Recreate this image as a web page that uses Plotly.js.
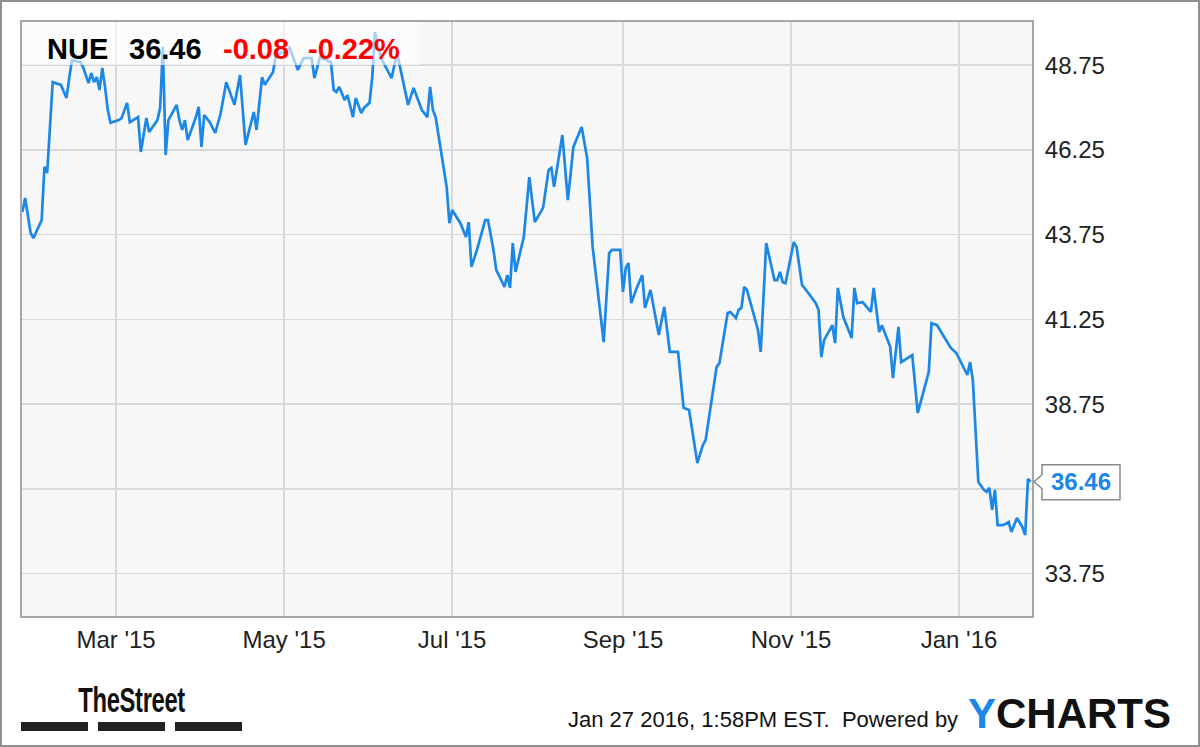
<!DOCTYPE html>
<html>
<head>
<meta charset="utf-8">
<script src="https://cdn.plot.ly/plotly-3.0.1.min.js"></script>
<style>
  html, body { margin: 0; padding: 0; background: #fff; }
  #chart { width: 1200px; height: 747px; }
</style>
</head>
<body>
<div id="chart"></div>
<script>
const ticker = 'NUE';
const dates = [
 '2015-01-26','2015-01-27','2015-01-29','2015-01-30','2015-02-02','2015-02-03','2015-02-04','2015-02-05','2015-02-06','2015-02-09',
 '2015-02-11','2015-02-12','2015-02-13','2015-02-16','2015-02-17','2015-02-19','2015-02-20','2015-02-21','2015-02-22','2015-02-23',
 '2015-02-24','2015-02-25','2015-02-26','2015-02-27','2015-03-02','2015-03-03','2015-03-05','2015-03-06','2015-03-09','2015-03-10',
 '2015-03-12','2015-03-13','2015-03-16','2015-03-17','2015-03-18','2015-03-19','2015-03-20','2015-03-23','2015-03-24','2015-03-25',
 '2015-03-26','2015-03-27','2015-03-30','2015-03-31','2015-04-01','2015-04-02','2015-04-04','2015-04-06','2015-04-08','2015-04-10',
 '2015-04-13','2015-04-15','2015-04-17','2015-04-20','2015-04-21','2015-04-23','2015-04-24','2015-04-27','2015-04-28','2015-05-01',
 '2015-05-03','2015-05-06','2015-05-08','2015-05-11','2015-05-12','2015-05-14','2015-05-18','2015-05-19','2015-05-20','2015-05-21',
 '2015-05-23','2015-05-24','2015-05-26','2015-05-27','2015-05-29','2015-05-30','2015-06-01','2015-06-02','2015-06-03','2015-06-05',
 '2015-06-07','2015-06-09','2015-06-11','2015-06-13','2015-06-15','2015-06-17','2015-06-19','2015-06-20','2015-06-22','2015-06-23',
 '2015-06-24','2015-06-25','2015-06-27','2015-06-29','2015-06-30','2015-07-01','2015-07-04','2015-07-06','2015-07-07','2015-07-08',
 '2015-07-10','2015-07-13','2015-07-14','2015-07-16','2015-07-17','2015-07-20','2015-07-21','2015-07-22','2015-07-23','2015-07-24',
 '2015-07-27','2015-07-29','2015-07-31','2015-08-03','2015-08-05','2015-08-06','2015-08-07','2015-08-10','2015-08-12','2015-08-14',
 '2015-08-17','2015-08-19','2015-08-21','2015-08-25','2015-08-27','2015-08-28','2015-08-31','2015-09-01','2015-09-02','2015-09-03',
 '2015-09-04','2015-09-06','2015-09-08','2015-09-09','2015-09-11','2015-09-14','2015-09-16','2015-09-18','2015-09-21','2015-09-23',
 '2015-09-25','2015-09-28','2015-09-30','2015-10-01','2015-10-05','2015-10-06','2015-10-09','2015-10-10','2015-10-12','2015-10-13',
 '2015-10-14','2015-10-15','2015-10-16','2015-10-19','2015-10-20','2015-10-21','2015-10-23','2015-10-26','2015-10-27','2015-10-28',
 '2015-10-29','2015-10-30','2015-11-02','2015-11-03','2015-11-05','2015-11-07','2015-11-10','2015-11-11','2015-11-12','2015-11-13',
 '2015-11-16','2015-11-17','2015-11-18','2015-11-20','2015-11-23','2015-11-24','2015-11-25','2015-11-27','2015-11-30','2015-12-01',
 '2015-12-03','2015-12-04','2015-12-07','2015-12-08','2015-12-10','2015-12-11','2015-12-15','2015-12-17','2015-12-21','2015-12-22',
 '2015-12-24','2015-12-29','2015-12-31','2016-01-04','2016-01-05','2016-01-06','2016-01-08','2016-01-10','2016-01-11','2016-01-12',
 '2016-01-13','2016-01-14','2016-01-15','2016-01-17','2016-01-19','2016-01-20','2016-01-22','2016-01-24','2016-01-25','2016-01-26',
 '2016-01-27'
];
const closes = [
 44.42,44.83,43.80,43.65,44.18,45.75,45.57,46.84,48.25,48.17,
 47.78,48.37,48.90,48.84,48.70,48.22,48.52,48.25,48.40,48.02,
 48.67,48.11,47.43,47.05,47.13,47.19,47.64,47.07,47.22,46.19,
 47.19,46.78,47.13,47.49,49.29,46.10,47.13,47.58,47.13,46.84,
 47.13,46.54,47.22,47.52,46.34,47.28,47.07,46.75,47.34,48.25,
 47.58,48.46,46.40,47.37,46.84,48.40,48.17,48.55,49.05,49.14,
 49.26,48.61,48.96,48.96,48.37,48.99,48.84,48.02,47.96,48.11,
 47.72,47.87,47.22,47.78,47.34,47.49,47.64,48.40,49.73,48.99,
 48.67,48.37,49.11,48.31,47.58,48.08,47.64,47.43,47.22,48.11,
 47.43,47.22,46.19,45.16,44.09,44.48,44.09,43.68,44.12,42.80,
 43.30,44.18,44.18,43.30,42.71,42.21,42.56,42.18,43.50,42.65,
 43.68,45.45,44.12,44.54,45.66,45.72,45.16,46.69,44.77,46.34,
 46.93,46.01,43.39,40.58,43.21,43.30,43.30,42.06,42.77,42.91,
 41.73,42.18,42.56,41.59,42.12,40.79,41.62,40.29,40.29,38.64,
 38.58,37.01,37.54,37.69,39.85,39.96,41.44,41.47,41.29,41.53,
 41.59,42.21,42.12,41.23,40.94,40.29,43.50,42.41,42.41,42.65,
 42.35,42.32,43.53,43.39,42.27,42.06,41.73,41.53,40.14,40.64,
 41.08,40.55,42.18,41.32,40.70,42.18,41.73,41.76,41.47,42.18,
 40.88,41.08,40.44,39.52,41.03,39.99,40.20,38.49,39.70,41.14,
 41.08,40.41,40.26,39.61,39.99,39.46,36.45,36.22,36.16,36.28,
 35.63,36.22,35.18,35.18,35.27,34.98,35.39,35.12,34.89,36.54,
 36.46
];
const yTickVals = [33.75, 36.25, 38.75, 41.25, 43.75, 46.25, 48.75];
const yTickText = ['33.75', '', '38.75', '41.25', '43.75', '46.25', '48.75'];
const xTickVals = ['2015-03-01', '2015-05-01', '2015-07-01', '2015-09-01', '2015-11-01', '2016-01-01'];
const xTickText = ["Mar '15", "May '15", "Jul '15", "Sep '15", "Nov '15", "Jan '16"];
const stampText = 'Jan 27 2016, 1:58PM EST.&nbsp; Powered by';
const brandText = 'TheStreet';

const last = closes[closes.length - 1];
const prev = closes[closes.length - 2];
const chg = last - prev;
const pct = chg / prev * 100;
const fmt = v => (v < 0 ? '-' : '+') + Math.abs(v).toFixed(2);

// pixel -> paper helpers for decorations outside plot area
const W = 1200, H = 747, L = 22, R = 168, T = 22, B = 131;
const pw = W - L - R, ph = H - T - B;
const px = x => (x - L) / pw;
const py = y => (H - B - y) / ph;

const FONT = 'Liberation Sans, Arial, Helvetica, sans-serif';
const blue = '#1c87e5';

const trace = {
  type: 'scatter', mode: 'lines', x: dates, y: closes,
  line: {color: blue, width: 2.7, shape: 'linear'},
  hoverinfo: 'skip'
};

const layout = {
  width: W, height: H,
  margin: {l: L, r: R, t: T, b: B},
  paper_bgcolor: '#ffffff',
  plot_bgcolor: '#f7f7f7',
  showlegend: false,
  xaxis: {
    type: 'date',
    range: ['2015-01-25 20:40', '2016-01-27 11:20'],
    tickmode: 'array', tickvals: xTickVals, ticktext: xTickText,
    showgrid: true, gridcolor: '#d9d9d9', gridwidth: 1.5,
    showline: true, linecolor: '#a6a6a6', linewidth: 2, mirror: true,
    ticks: 'outside', ticklen: 1, tickcolor: 'rgba(0,0,0,0)',
    tickfont: {family: FONT, size: 24, color: '#222'},
    zeroline: false, fixedrange: true
  },
  yaxis: {
    side: 'right',
    range: [32.5, 50.025],
    tickmode: 'array', tickvals: yTickVals, ticktext: yTickText,
    showgrid: true, gridcolor: '#d9d9d9', gridwidth: 1.5,
    showline: true, linecolor: '#a6a6a6', linewidth: 2, mirror: true,
    ticks: 'outside', ticklen: 6, tickcolor: 'rgba(0,0,0,0)',
    tickfont: {family: FONT, size: 24, color: '#222'},
    zeroline: false, fixedrange: true
  },
  shapes: [
    {type: 'rect', xref: 'paper', yref: 'paper', x0: 0, x1: px(420), y0: py(65), y1: 1,
     fillcolor: 'rgba(255,255,255,0.6)', line: {width: 0}, layer: 'above'},
    {type: 'rect', xref: 'paper', yref: 'paper', x0: px(1), x1: px(1199), y0: py(746), y1: py(1),
     fillcolor: 'rgba(0,0,0,0)', line: {color: '#8f8f8f', width: 2}, layer: 'above'},
    {type: 'path', xref: 'paper', xsizemode: 'pixel', xanchor: 1,
     yref: 'y', ysizemode: 'pixel', yanchor: last,
     path: 'M 10,17 L 88,17 L 88,-18 L 10,-18 L 10,-7 L 2,0 L 10,7 Z',
     fillcolor: '#ffffff', line: {color: '#8a8a8a', width: 1.5}, layer: 'above'},
    {type: 'rect', xref: 'paper', yref: 'paper', x0: px(21), x1: px(88), y0: py(731), y1: py(722),
     fillcolor: '#222', line: {width: 0}},
    {type: 'rect', xref: 'paper', yref: 'paper', x0: px(98), x1: px(165), y0: py(731), y1: py(722),
     fillcolor: '#222', line: {width: 0}},
    {type: 'rect', xref: 'paper', yref: 'paper', x0: px(175), x1: px(242), y0: py(731), y1: py(722),
     fillcolor: '#222', line: {width: 0}}
  ],
  annotations: [
    {xref: 'paper', yref: 'paper', x: px(45), y: py(48.5), xanchor: 'left', yanchor: 'middle',
     text: ticker, showarrow: false, font: {family: FONT, size: 29, color: '#000', weight: 700}},
    {xref: 'paper', yref: 'paper', x: px(127), y: py(48.5), xanchor: 'left', yanchor: 'middle',
     text: last.toFixed(2), showarrow: false, font: {family: FONT, size: 29, color: '#000', weight: 700}},
    {xref: 'paper', yref: 'paper', x: px(221), y: py(48.5), xanchor: 'left', yanchor: 'middle',
     text: fmt(chg), showarrow: false, font: {family: FONT, size: 29, color: '#ff0000', weight: 700}},
    {xref: 'paper', yref: 'paper', x: px(306), y: py(48.5), xanchor: 'left', yanchor: 'middle',
     text: fmt(pct) + '%', showarrow: false, font: {family: FONT, size: 29, color: '#ff0000', weight: 700}},
    {xref: 'paper', yref: 'y', x: 1, y: last, xshift: 49, xanchor: 'center', yanchor: 'middle',
     text: last.toFixed(2), showarrow: false, font: {family: FONT, size: 24, color: blue, weight: 700}},
    {xref: 'paper', yref: 'paper', x: px(74), y: py(699.5), xanchor: 'left', yanchor: 'middle',
     text: brandText, showarrow: false, font: {family: FONT, size: 35, color: '#111', weight: 700}},
    {xref: 'paper', yref: 'paper', x: px(566), y: py(719), xanchor: 'left', yanchor: 'middle',
     text: stampText, showarrow: false, font: {family: FONT, size: 22, color: '#111'}},
    {xref: 'paper', yref: 'paper', x: px(966), y: py(713), xanchor: 'left', yanchor: 'middle',
     text: "<span style='color:" + blue + "'>Y</span>CHARTS", showarrow: false,
     font: {family: FONT, size: 42, color: '#111', weight: 700}}
  ]
};

Plotly.newPlot('chart', [trace], layout, {displayModeBar: false, staticPlot: true}).then(() => {
  // condense the TheStreet wordmark horizontally to match its logo proportions
  document.querySelectorAll('text.annotation-text').forEach(t => {
    if (t.textContent === brandText) {
      t.style.transformBox = 'fill-box';
      t.style.transformOrigin = 'left center';
      t.style.transform = 'scaleX(0.68)';
      t.style.letterSpacing = '-0.5px';
    }
  });
});
</script>
</body>
</html>
